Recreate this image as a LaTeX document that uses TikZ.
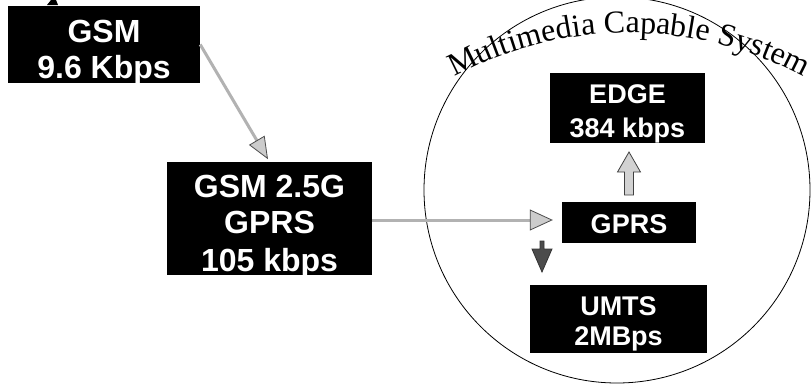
\documentclass[tikz,border=0pt]{standalone}
\usepackage{fontspec}
\setmainfont{Liberation Serif}
\setsansfont{Liberation Sans}
\usetikzlibrary{arrows.meta,decorations.text}
\begin{document}
\begin{tikzpicture}[x=1pt,y=-1pt,
  box/.style={fill=black, inner sep=0pt},
  lbl/.style={text=white, inner sep=0pt, anchor=base, font=\fontsize{32}{32}\selectfont\sffamily\bfseries},
  slbl/.style={lbl, font=\fontsize{27}{27}\selectfont\sffamily\bfseries},
  thinarr/.style={draw=gray!60, line width=3pt,
    -{Triangle[length=22pt,width=18pt,color=black!70,fill=gray!40,line width=0.8pt]}},
  blockarr/.style={draw=black!75, fill=gray!35, line width=0.8pt},
  darkarr/.style={draw=black!80, fill=black!70, line width=0.8pt}]
\useasboundingbox (0,0) rectangle (811,388);
\fill[white] (0,0) rectangle (811,388);

% small cut-off mark at top left
\fill[black] (47,5) -- (51,0) -- (56,0) -- (58,5) -- cycle;

% outer circle
\draw[line width=0.8pt] (617,190) circle[radius=193];

% curved title
\path[decorate, decoration={text along path,
   text={|\fontsize{32}{32}\selectfont\rmfamily|Multimedia Capable System},
   text align=center}]
  (629,401) ++(-120:368) arc[start angle=-120, end angle=-60, radius=368];

% boxes
\node[box, minimum width=192pt, minimum height=77pt] (gsm) at (104,44.5) {};
\node[box, minimum width=205pt, minimum height=113pt] (g25) at (269.5,218.5) {};
\node[box, minimum width=155pt, minimum height=70pt] (edge) at (627.5,108) {};
\node[box, minimum width=134pt, minimum height=41pt] (gprs) at (629,222.5) {};
\node[box, minimum width=177pt, minimum height=68pt] (umts) at (618.5,319) {};

% labels
\node[lbl] (gsmA) at (104,42) {GSM};
\node[lbl] (gsmB) at (104,78) {9.6 Kbps};
\node[lbl] (g25A) at (269.5,197) {GSM 2.5G};
\node[lbl] (g25B) at (269.5,233) {GPRS};
\node[lbl] (g25C) at (269.5,271) {105 kbps};
\node[slbl] (edgeA) at (627.5,103) {EDGE};
\node[slbl] (edgeB) at (627.5,137) {384 kbps};
\node[slbl] (gprsA) at (629,233) {GPRS};
\node[slbl] (umtsA) at (618.5,315) {UMTS};
\node[slbl] (umtsB) at (618.5,345) {2MBps};

% connectors
\draw[thinarr, shorten >=3pt] (gsm.east) -- (g25.north);
\draw[thinarr, -{Triangle[length=23pt,width=21pt,color=black!70,fill=gray!40,line width=0.8pt]}, shorten >=9pt]
  ([yshift=-1.5pt]g25.east) -- ([yshift=-1.5pt]g25.east -| gprs.west);

% block arrow GPRS -> EDGE
\filldraw[blockarr] (624.5,195) -- (624.5,172) -- (617.5,172) -- (629,152) -- (640.5,172) -- (633.5,172) -- (633.5,195) -- cycle;

% small dark arrow down towards UMTS
\filldraw[darkarr] (540,241) -- (540,249) -- (532,249) -- (542,272) -- (552,249) -- (544,249) -- (544,241) -- cycle;
\end{tikzpicture}
\end{document}
